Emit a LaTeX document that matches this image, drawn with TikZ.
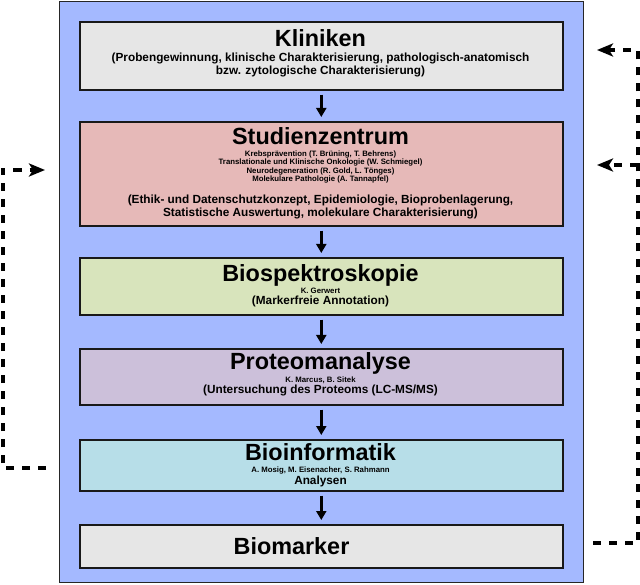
\documentclass[tikz,border=0pt]{standalone}
\usepackage{fontspec}
\setmainfont{Liberation Sans}
\usetikzlibrary{arrows.meta}
\definecolor{bgblue}{HTML}{A4B9FF}
\definecolor{kgray}{HTML}{E6E6E6}
\definecolor{spink}{HTML}{E6B9B8}
\definecolor{bgreen}{HTML}{D8E4BC}
\definecolor{plila}{HTML}{CCC0DA}
\definecolor{icyan}{HTML}{B7DEE8}
\begin{document}
\begin{tikzpicture}[x=1pt,y=-1pt,
  stage/.style={draw=black!90, line width=1.6pt, anchor=north west, inner sep=0pt, minimum width=483pt},
  ttl/.style={anchor=base, font=\fontsize{23.4}{28}\selectfont\bfseries, inner sep=0pt},
  sub/.style={anchor=base, font=\fontsize{11.8}{13.5}\selectfont\bfseries, inner sep=0pt},
  who/.style={anchor=base, font=\fontsize{7.8}{8.5}\selectfont\bfseries, inner sep=0pt},
  flow/.style={-{Triangle[length=9pt,width=10pt]}, line width=2.8pt, shorten <=4pt, shorten >=4pt},
  fb/.style={line width=4pt, dash pattern=on 8pt off 8pt, -{Stealth[length=16pt,width=13pt,inset=4pt]}}]
\useasboundingbox (0,0) rectangle (640,585);
\node[draw=black!85, line width=1.2pt, fill=bgblue, anchor=north west, minimum width=524pt, minimum height=581pt, inner sep=0pt] (frame) at (58.5,1) {};
% stages
\node[stage, fill=kgray, minimum height=68pt] (k) at (79,21) {};
\node[stage, fill=spink, minimum height=104pt] (s) at (79,121) {};
\node[stage, fill=bgreen, minimum height=57pt] (b) at (79,257) {};
\node[stage, fill=plila, minimum height=56pt] (p) at (79,348) {};
\node[stage, fill=icyan, minimum height=51pt] (i) at (79,439) {};
\node[stage, fill=kgray, minimum height=43pt] (m) at (79,524) {};
% texts
\node[ttl] (kt) at (320.5,46.7) {Kliniken};
\node[sub] (k1) at (320.5,61.7) {(Probengewinnung, klinische Charakterisierung, pathologisch-anatomisch};
\node[sub] (k2) at (320.5,75) {bzw. zytologische Charakterisierung)};
\node[ttl] (st) at (320.5,145) {Studienzentrum};
\node[who] (s1) at (320.5,156.7) {Krebsprävention (T. Brüning, T. Behrens)};
\node[who] (s2) at (320.5,165) {Translationale und Klinische Onkologie (W. Schmiegel)};
\node[who] (s3) at (320.5,173.3) {Neurodegeneration (R. Gold, L. Tönges)};
\node[who] (s4) at (320.5,181.6) {Molekulare Pathologie (A. Tannapfel)};
\node[sub] (s5) at (320.5,204) {(Ethik- und Datenschutzkonzept, Epidemiologie, Bioprobenlagerung,};
\node[sub] (s6) at (320.5,217) {Statistische Auswertung, molekulare Charakterisierung)};
\node[ttl] (bt) at (320.5,281.7) {Biospektroskopie};
\node[who] (b1) at (320.5,293.3) {K. Gerwert};
\node[sub] (b2) at (320.5,305) {(Markerfreie Annotation)};
\node[ttl] (pt) at (320.5,370) {Proteomanalyse};
\node[who] (p1) at (320.5,382.3) {K. Marcus, B. Sitek};
\node[sub] (p2) at (320.5,393.3) {(Untersuchung des Proteoms (LC-MS/MS)};
\node[ttl] (it) at (320.5,460) {Bioinformatik};
\node[who] (i1) at (320.5,472.7) {A. Mosig, M. Eisenacher, S. Rahmann};
\node[sub] (i2) at (320.5,484) {Analysen};
\node[ttl] (mt) at (291.5,554.3) {Biomarker};
% flow arrows
\draw[flow] (k.south) -- (s.north);
\draw[flow] (s.south) -- (b.north);
\draw[flow] (b.south) -- (p.north);
\draw[flow] (p.south) -- (i.north);
\draw[flow] (i.south) -- (m.north);
% feedback loops
\coordinate (lA) at (46,467.5);
\coordinate (lC) at (2.5,467.5);
\coordinate (lB) at (45,170);
\draw[fb] (lA) -- (lC) |- (lB);
\coordinate (rA) at (593,543);
\coordinate (rC) at (637.5,543);
\coordinate (rT) at (597,50);
\coordinate (rJ) at (637.5,165);
\coordinate (rM) at (597,165);
\draw[fb] (rA) -- (rC) |- (rT);
\draw[fb] (rJ) -- (rM);
\end{tikzpicture}
\end{document}
